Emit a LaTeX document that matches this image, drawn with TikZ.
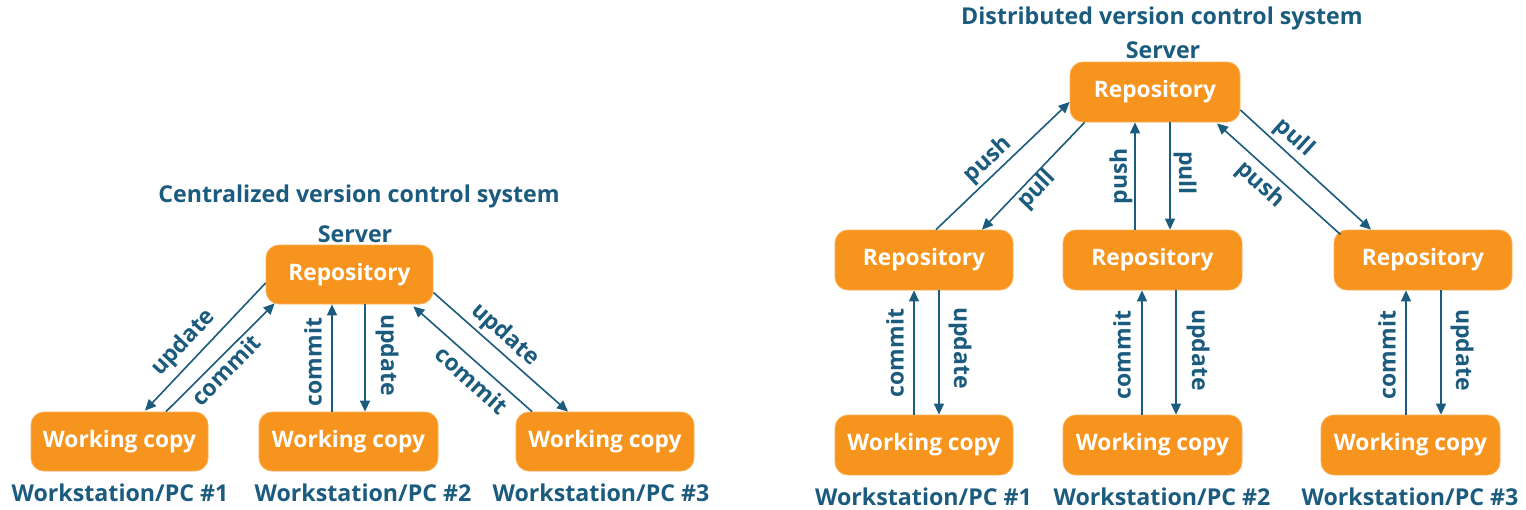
\documentclass[tikz,border=0pt]{standalone}
\usepackage{fontspec}
\setmainfont{Open Sans}
\usetikzlibrary{arrows.meta,calc}
\definecolor{boxor}{HTML}{F7941D}
\definecolor{tblue}{HTML}{1B5B7E}
\begin{document}
\begin{tikzpicture}[x=1pt,y=-1pt,
  box/.style={rectangle, rounded corners=13pt, fill=boxor, draw=boxor!75!white, line width=0.8pt,
    text=white, font=\bfseries\fontsize{22.7}{26}\selectfont, inner sep=0pt, minimum height=59pt},
  ttl/.style={text=tblue, font=\bfseries\fontsize{23.2}{26}\selectfont, inner sep=0pt},
  lbl/.style={text=tblue, font=\bfseries\fontsize{23}{26}\selectfont, inner sep=0pt},
  arr/.style={draw=tblue, line width=1.6pt, -{Triangle[length=11pt,width=10pt]}},
]
\useasboundingbox (0,0) rectangle (1526,509);

% ---------- Centralized ----------
\node[ttl] (ctitle) at (359,196) {Centralized version control system};
\node[ttl] (cserver) at (355,234) {Server};
\node[box, minimum width=167pt] (repoC) at (349.5,274.5) {Repository};
\node[box, minimum width=177pt] (wc1) at (119.5,441.5) {Working copy};
\node[box, minimum width=179pt] (wc2) at (348.5,441.5) {Working copy};
\node[box, minimum width=178pt] (wc3) at (605,441.5) {Working copy};
\node[ttl] (ws1) at (120,493) {Workstation/PC \#1};
\node[ttl] (ws2) at (363,493) {Workstation/PC \#2};
\node[ttl] (ws3) at (601,493) {Workstation/PC \#3};

\draw[arr] ($(repoC.west)+(0,8.5)$) -- ($(wc1.north)+(25.5,-1)$);
\draw[arr] ($(wc1.north)+(46.5,0)$) -- ($(repoC.south west)+(9,-1)$);
\draw[arr] ($(wc2.north)+(-16.5,0)$) -- ($(repoC.south)+(-17.5,0)$);
\draw[arr] ($(repoC.south)+(15.5,0)$) -- ($(wc2.north)+(16.5,0)$);
\draw[arr] ($(wc3.north)+(-73,0)$) -- ($(repoC.south east)+(-20,2)$);
\draw[arr] ($(repoC.east)+(0,18)$) -- ($(wc3.north)+(-37,0)$);

\node[lbl, rotate=47] (cu1) at (184,343) {update};
\node[lbl, rotate=46] (cc1) at (226,370) {commit};
\node[lbl, rotate=90] (cc2) at (313,362) {commit};
\node[lbl, rotate=-90] (cu2) at (387,355) {update};
\node[lbl, rotate=-42] (cc3) at (472,380) {commit};
\node[lbl, rotate=-42] (cu3) at (505,335) {update};

% ---------- Distributed ----------
\node[ttl] (dtitle) at (1162,18) {Distributed version control system};
\node[ttl] (dserver) at (1163,50) {Server};
\node[box, minimum width=170pt, minimum height=60pt] (repoT) at (1155,92) {Repository};
\node[box, minimum width=178pt, minimum height=60pt] (repoL) at (924,260) {Repository};
\node[box, minimum width=179pt, minimum height=60pt] (repoM) at (1152.5,260) {Repository};
\node[box, minimum width=178pt, minimum height=60pt] (repoR) at (1423,260) {Repository};
\node[box, minimum width=178pt, minimum height=60pt] (wcL) at (924,445) {Working copy};
\node[box, minimum width=179pt, minimum height=60pt] (wcM) at (1152.5,445) {Working copy};
\node[box, minimum width=179pt, minimum height=60pt] (wcR) at (1410.5,445) {Working copy};
\node[ttl] (dws1) at (923.5,497) {Workstation/PC \#1};
\node[ttl] (dws2) at (1162,497) {Workstation/PC \#2};
\node[ttl] (dws3) at (1410,497) {Workstation/PC \#3};

\draw[arr] ($(repoL.north)+(12,0)$) -- ($(repoT.west)+(0,10)$);
\draw[arr] ($(repoT.south west)+(15,0)$) -- ($(repoL.north)+(58,0)$);
\draw[arr] ($(repoM.north)+(-17.5,0)$) -- ($(repoT.south)+(-20,0)$);
\draw[arr] ($(repoT.south)+(15,0)$) -- ($(repoM.north)+(17.5,0)$);
\draw[arr] ($(repoR.north west)+(7,5)$) -- ($(repoT.south)+(62,1)$);
\draw[arr] ($(repoT.east)+(0,18)$) -- ($(repoR.north)+(-52,0)$);

\node[lbl, rotate=43] (dp1) at (988,160) {push};
\node[lbl, rotate=46] (dl1) at (1037,190) {pull};
\node[lbl, rotate=90] (dp2) at (1121,176) {push};
\node[lbl, rotate=-90] (dl2) at (1185,173) {pull};
\node[lbl, rotate=-42] (dp3) at (1260,185) {push};
\node[lbl, rotate=-42] (dl3) at (1294,138) {pull};

\draw[arr] ($(wcL.north)+(-10,0)$) -- ($(repoL.south)+(-10,0)$);
\draw[arr] ($(repoL.south)+(15,0)$) -- ($(wcL.north)+(15,0)$);
\draw[arr] ($(wcM.north)+(-10.5,0)$) -- ($(repoM.south)+(-10.5,0)$);
\draw[arr] ($(repoM.south)+(23.5,0)$) -- ($(wcM.north)+(23.5,0)$);
\draw[arr] ($(wcR.north)+(-4.5,0)$) -- ($(repoR.south)+(-17,0)$);
\draw[arr] ($(repoR.south)+(18,0)$) -- ($(wcR.north)+(30.5,0)$);

\node[lbl, rotate=90] (dc1) at (895,353) {commit};
\node[lbl, rotate=-90] (du1) at (960,348) {update};
\node[lbl, rotate=90] (dc2) at (1122,355) {commit};
\node[lbl, rotate=-90] (du2) at (1198,350) {update};
\node[lbl, rotate=90] (dc3) at (1387,355) {commit};
\node[lbl, rotate=-90] (du3) at (1462,350) {update};
\end{tikzpicture}
\end{document}
